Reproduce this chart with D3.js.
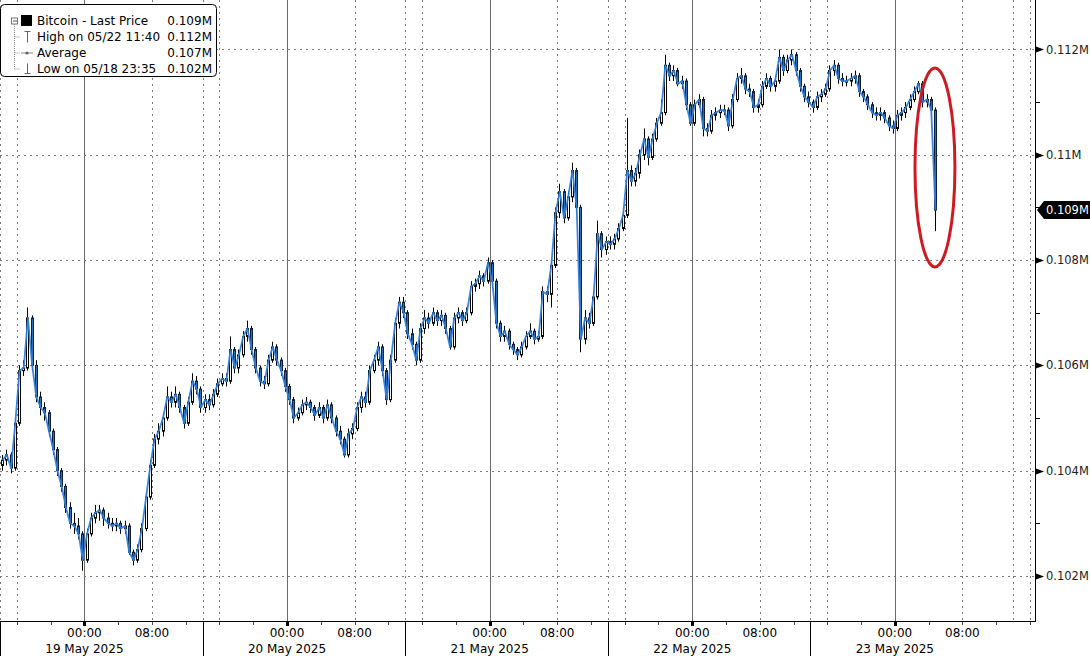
<!DOCTYPE html>
<html><head><meta charset="utf-8">
<script src="https://cdn.jsdelivr.net/npm/d3@7"></script>
<style>
body{margin:0;background:#fff;}
svg{display:block;font-family:"DejaVu Sans",sans-serif;}
</style>
</head><body>
<svg id="chart" width="1090" height="656"></svg>
<script>
// ---------------- data (thousands of USD, 30-minute candles) ----------------
const startTime = "2025-05-18T14:00";
const axisEndTime = "2025-05-23T16:36";
const candleMinutes = 30;
const firstOpen = 104.1;
const close = [
104.2,104.3,104.05,104.9,105.9,105.95,106.9,106.0,105.4,105.2,
105.1,104.75,104.4,104.0,103.7,103.3,103.0,102.95,102.8,102.3,
102.8,103.1,103.2,103.25,103.1,103.0,102.95,103.0,102.9,102.95,
102.45,102.3,102.5,102.9,103.5,104.1,104.6,104.75,105.0,105.4,
105.3,105.45,105.2,104.9,105.3,105.7,105.55,105.2,105.35,105.25,
105.45,105.65,105.75,105.7,106.3,105.95,106.2,106.55,106.7,106.3,
105.95,105.7,105.65,106.1,106.35,106.1,105.9,105.6,105.35,105.0,
105.1,105.25,105.3,105.2,105.05,105.2,105.0,105.25,105.0,104.75,
104.6,104.3,104.7,104.8,105.2,105.4,105.3,105.9,106.1,106.35,
105.9,105.35,106.1,106.8,107.2,107.0,106.6,106.4,106.1,106.7,
106.9,106.8,107.0,106.85,106.95,106.7,106.35,106.9,107.0,106.85,
107.0,107.5,107.55,107.7,107.6,107.95,107.6,106.8,106.55,106.65,
106.4,106.3,106.2,106.35,106.55,106.65,106.5,106.55,107.4,107.35,
107.9,108.9,109.3,108.8,109.2,109.7,109.0,106.5,106.9,106.8,
107.3,108.5,108.2,108.35,108.3,108.4,108.6,108.85,109.7,109.5,
109.65,110.0,110.3,109.95,110.3,110.6,110.8,111.7,111.5,111.6,
111.35,111.4,110.95,110.6,110.95,111.05,110.5,110.45,110.75,110.8,
110.85,110.85,110.55,111.05,111.45,111.5,111.25,111.2,110.9,110.95,
111.3,111.45,111.3,111.4,111.85,111.6,111.8,111.9,111.6,111.3,
111.1,111.0,110.9,111.1,111.15,111.25,111.6,111.7,111.45,111.4,
111.4,111.45,111.5,111.2,111.1,110.95,110.8,110.75,110.8,110.7,
110.55,110.5,110.75,110.8,110.9,111.05,111.2,111.35,111.0,111.05,
110.85,108.95
];
const high = [
104.3,104.4,104.35,105.0,106.0,106.1,107.1,106.95,106.1,105.5,
105.3,105.15,104.8,104.45,104.05,103.75,103.4,103.2,103.1,102.85,
102.9,103.2,103.35,103.35,103.3,103.2,103.1,103.1,103.05,103.05,
103.0,102.5,102.6,103.0,103.6,104.2,104.7,104.9,105.1,105.6,
105.5,105.6,105.5,105.25,105.4,105.85,105.8,105.6,105.45,105.45,
105.55,105.75,105.85,105.85,106.55,106.35,106.3,106.65,106.85,106.75,
106.35,106.0,105.8,106.2,106.45,106.4,106.15,105.95,105.65,105.4,
105.2,105.35,105.4,105.35,105.25,105.3,105.25,105.35,105.3,105.05,
104.85,104.65,104.8,104.9,105.3,105.5,105.5,106.0,106.2,106.45,
106.4,105.95,106.2,106.9,107.3,107.3,107.05,106.7,106.45,106.8,
107.05,107.0,107.1,107.05,107.05,107.0,106.75,107.0,107.1,107.05,
107.1,107.6,107.65,107.8,107.75,108.05,108.0,107.65,106.85,106.75,
106.7,106.45,106.35,106.45,106.65,106.8,106.7,106.65,107.5,107.5,
108.0,109.0,109.45,109.35,109.3,109.85,109.75,109.05,107.05,107.0,
107.4,108.75,108.55,108.45,108.45,108.5,108.7,108.95,110.7,109.8,
109.75,110.1,110.5,110.35,110.4,110.7,111.05,111.9,111.75,111.7,
111.65,111.5,111.45,111.0,111.05,111.15,111.1,110.6,110.85,110.9,
110.95,110.95,110.9,111.15,111.55,111.65,111.55,111.35,111.25,111.05,
111.4,111.55,111.5,111.5,112.0,111.9,111.9,112.0,111.95,111.65,
111.35,111.2,111.05,111.2,111.25,111.35,111.7,111.8,111.75,111.55,
111.5,111.55,111.6,111.55,111.25,111.15,111.0,110.9,110.9,110.85,
110.75,110.65,110.85,110.9,111.0,111.15,111.3,111.4,111.4,111.15,
111.1,110.9
];
const low = [
104.0,104.1,103.95,104.0,104.85,105.8,105.9,105.9,105.3,105.05,
104.95,104.65,104.3,103.9,103.6,103.2,102.9,102.8,102.7,102.1,
102.25,102.75,103.0,103.05,102.95,102.9,102.85,102.85,102.8,102.8,
102.4,102.2,102.25,102.45,102.85,103.45,104.05,104.5,104.65,104.95,
105.2,105.2,105.1,104.8,104.85,105.25,105.45,105.1,105.1,105.15,
105.2,105.4,105.6,105.6,105.65,105.85,105.85,106.15,106.45,106.2,
105.85,105.6,105.55,105.6,106.05,106.0,105.8,105.5,105.25,104.9,
104.95,105.05,105.15,105.1,104.95,105.0,104.9,104.95,104.9,104.65,
104.5,104.25,104.25,104.6,104.75,105.1,105.2,105.25,105.85,106.0,
105.8,105.25,105.3,106.05,106.7,106.9,106.5,106.3,106.0,106.05,
106.6,106.7,106.75,106.75,106.75,106.6,106.3,106.3,106.8,106.75,
106.8,106.95,107.4,107.45,107.5,107.55,107.5,106.7,106.45,106.45,
106.3,106.2,106.1,106.15,106.3,106.5,106.4,106.45,106.5,107.2,
107.1,107.85,108.8,108.7,108.75,109.1,108.9,106.25,106.4,106.7,
106.75,107.25,108.05,108.1,108.2,108.2,108.35,108.55,108.8,109.4,
109.4,109.55,109.9,109.8,109.9,110.25,110.55,110.75,111.4,111.4,
111.3,111.25,110.85,110.55,110.55,110.9,110.35,110.35,110.4,110.65,
110.7,110.75,110.45,110.5,111.0,111.35,111.15,111.1,110.8,110.8,
110.9,111.25,111.2,111.2,111.35,111.5,111.55,111.7,111.5,111.2,
111.0,110.9,110.8,110.85,111.0,111.1,111.2,111.5,111.35,111.3,
111.3,111.3,111.35,111.1,111.0,110.85,110.7,110.65,110.65,110.6,
110.45,110.4,110.45,110.65,110.7,110.85,111.0,111.15,110.9,110.9,
110.75,108.55
];
const yMin = 101.145, yMax = 112.94;
const yMajorTicks = [102, 104, 106, 108, 110, 112];
const yMinorTicks = [103, 105, 107, 109, 111];
const xLabelHours = [0, 8];
const solidGridHours = [0];
const dottedGridHours = [8, 14, 16];
const separatorHour = 14;
const separatorLastDay = "2025-05-22T14:00";
const legendRows = [
  {label: "Bitcoin - Last Price", value: "0.109M", icon: "square"},
  {label: "High on 05/22 11:40", value: "0.112M", icon: "high"},
  {label: "Average", value: "0.107M", icon: "avg"},
  {label: "Low on 05/18 23:35", value: "0.102M", icon: "low"}
];
const lastPriceLabel = "0.109M";
const annotation = {time: "2025-05-23T04:45", top: 111.65, bottom: 107.87, halfHours: 2.37};

// ---------------- scales ----------------
const parse = d3.timeParse("%Y-%m-%dT%H:%M");
const t0 = parse(startTime), tEnd = parse(axisEndTime);
const plotRight = 1035, plotBottom = 621;
const x = d3.scaleTime().domain([t0, tEnd]).range([0, plotRight]);
const y = d3.scaleLinear().domain([yMin, yMax]).range([plotBottom, 0]);
const fmtM = k => d3.format(".3~f")(k * 1000 / 1e6) + "M";

const svg = d3.select("#chart");
svg.append("rect").attr("width", 1090).attr("height", 656).attr("fill", "#fff");

const data = close.map((c, i) => ({
  t: d3.timeMinute.offset(t0, i * candleMinutes + candleMinutes / 2),
  o: i ? close[i - 1] : firstOpen, c, h: high[i], l: low[i]
}));

// ---------------- grid ----------------
const grid = svg.append("g");
grid.selectAll("line.h").data(yMajorTicks).join("line")
  .attr("x1", 0).attr("x2", plotRight)
  .attr("y1", d => Math.round(y(d)) + 0.5).attr("y2", d => Math.round(y(d)) + 0.5)
  .attr("stroke", "#7a7a7a").attr("stroke-dasharray", "2,4");

const hours = d3.timeHour.range(t0, d3.timeMinute.offset(tEnd, 1));
const vx = d => Math.round(x(d)) + 0.5;
grid.selectAll("line.vd").data(hours.filter(d => dottedGridHours.includes(d.getHours()))).join("line")
  .attr("x1", vx).attr("x2", vx).attr("y1", 0).attr("y2", plotBottom)
  .attr("stroke", "#7a7a7a").attr("stroke-dasharray", "2,4");
grid.selectAll("line.vs").data(hours.filter(d => solidGridHours.includes(d.getHours()))).join("line")
  .attr("x1", vx).attr("x2", vx).attr("y1", 0).attr("y2", plotBottom)
  .attr("stroke", "#6a6a6a");

// ---------------- candles ----------------
const cg = svg.append("g");
cg.selectAll("line.w").data(data).join("line")
  .attr("x1", d => Math.round(x(d.t)) + 0.5).attr("x2", d => Math.round(x(d.t)) + 0.5)
  .attr("y1", d => y(d.h)).attr("y2", d => y(d.l))
  .attr("stroke", "#000").attr("stroke-width", 1);
cg.selectAll("rect.b").data(data).join("rect")
  .attr("x", d => Math.round(x(d.t)) - 0.5)
  .attr("width", 2)
  .attr("y", d => y(Math.max(d.o, d.c)))
  .attr("height", d => Math.max(1, Math.abs(y(d.o) - y(d.c))))
  .attr("fill", d => d.c >= d.o ? "#fff" : "#2c6fc0")
  .attr("stroke", d => d.c >= d.o ? "#000" : "#0c1f3d")
  .attr("stroke-width", 1);

// blue last-price line through the closes
const line = d3.line().x(d => x(d.t) + 0.5).y(d => y(d.c));
svg.append("path").datum(data).attr("d", line)
  .attr("fill", "none").attr("stroke", "#2f80da").attr("stroke-width", 1.8)
  .attr("stroke-linejoin", "round").attr("stroke-opacity", 0.95);

// ---------------- annotation ellipse ----------------
const at = parse(annotation.time);
svg.append("ellipse")
  .attr("cx", x(at))
  .attr("cy", (y(annotation.top) + y(annotation.bottom)) / 2)
  .attr("rx", x(d3.timeMinute.offset(at, annotation.halfHours * 60)) - x(at))
  .attr("ry", (y(annotation.bottom) - y(annotation.top)) / 2)
  .attr("fill", "none").attr("stroke", "#cc1c22").attr("stroke-width", 3);

// ---------------- right axis ----------------
const ra = svg.append("g");
ra.append("line").attr("x1", plotRight + 0.5).attr("x2", plotRight + 0.5)
  .attr("y1", 0).attr("y2", plotBottom).attr("stroke", "#000");
ra.selectAll("path.tri").data(yMajorTicks).join("path")
  .attr("d", d => { const yy = Math.round(y(d)) + 0.5; return `M${plotRight + 1},${yy - 3}L${plotRight + 9},${yy}L${plotRight + 1},${yy + 3}Z`; })
  .attr("fill", "#000");
ra.selectAll("line.mn").data(yMinorTicks).join("line")
  .attr("x1", plotRight + 1).attr("x2", plotRight + 5)
  .attr("y1", d => Math.round(y(d)) + 0.5).attr("y2", d => Math.round(y(d)) + 0.5)
  .attr("stroke", "#000");
ra.selectAll("text").data(yMajorTicks).join("text")
  .attr("x", plotRight + 11).attr("y", d => y(d)).attr("dy", "0.35em")
  .attr("font-size", 11.5).attr("fill", "#222")
  .text(d => fmtM(d));

// last price tag
const lastY = y(close[close.length - 1]);
const tag = svg.append("g");
tag.append("path")
  .attr("d", `M${plotRight + 2},${lastY}L${plotRight + 9},${lastY - 9}L1090,${lastY - 9}L1090,${lastY + 9}L${plotRight + 9},${lastY + 9}Z`)
  .attr("fill", "#000");
tag.append("text").attr("x", plotRight + 11).attr("y", lastY).attr("dy", "0.36em")
  .attr("font-size", 11.5).attr("fill", "#fff").text(lastPriceLabel);

// ---------------- bottom axis ----------------
const ba = svg.append("g");
ba.append("line").attr("x1", 0).attr("x2", plotRight + 1)
  .attr("y1", plotBottom + 0.5).attr("y2", plotBottom + 0.5).attr("stroke", "#000");
const fourH = hours.filter(d => d.getHours() % 4 === 0);
ba.selectAll("line.t").data(fourH.filter(d => d.getHours() !== 0)).join("line")
  .attr("x1", vx).attr("x2", vx).attr("y1", plotBottom + 1).attr("y2", plotBottom + 4)
  .attr("stroke", "#444");
ba.selectAll("rect.mj").data(hours.filter(d => d.getHours() === 0)).join("rect")
  .attr("x", d => Math.round(x(d)) - 1).attr("y", plotBottom + 1).attr("width", 3).attr("height", 4)
  .attr("fill", "#000");
const sepEnd = parse(separatorLastDay);
ba.selectAll("line.sep").data(hours.filter(d => d.getHours() === separatorHour && d <= sepEnd)).join("line")
  .attr("x1", vx).attr("x2", vx).attr("y1", plotBottom).attr("y2", 656)
  .attr("stroke", "#000");
ba.selectAll("text.tm").data(hours.filter(d => xLabelHours.includes(d.getHours()))).join("text")
  .attr("x", d => x(d)).attr("y", 637).attr("text-anchor", "middle")
  .attr("font-size", 12).attr("fill", "#000")
  .text(d3.timeFormat("%H:%M"));
ba.selectAll("text.dt").data(hours.filter(d => d.getHours() === 0)).join("text")
  .attr("x", d => x(d)).attr("y", 653).attr("text-anchor", "middle")
  .attr("font-size", 12).attr("fill", "#000")
  .text(d3.timeFormat("%-d %b %Y"));

// ---------------- legend ----------------
const lg = svg.append("g");
lg.append("rect").attr("x", 0.5).attr("y", 4.5).attr("width", 216).attr("height", 72).attr("rx", 4)
  .attr("fill", "#fff").attr("stroke", "#000");
const rowY = i => 25 + i * 16;
lg.append("line").attr("x1", 14.5).attr("x2", 14.5).attr("y1", 22).attr("y2", rowY(3) - 4.5)
  .attr("stroke", "#888").attr("stroke-dasharray", "1,1");
legendRows.forEach((r, i) => {
  const cy = rowY(i) - 4.5;
  if (i > 0) lg.append("line").attr("x1", 14.5).attr("x2", 20).attr("y1", cy + 0.5).attr("y2", cy + 0.5)
    .attr("stroke", "#888").attr("stroke-dasharray", "1,1");
  if (r.icon === "square") {
    lg.append("rect").attr("x", 11.5).attr("y", cy - 2.5).attr("width", 6).attr("height", 6)
      .attr("fill", "#fff").attr("stroke", "#777");
    lg.append("line").attr("x1", 13).attr("x2", 17).attr("y1", cy + 0.5).attr("y2", cy + 0.5).attr("stroke", "#555");
    lg.append("rect").attr("x", 21).attr("y", cy - 5.5).attr("width", 11).attr("height", 11).attr("fill", "#000");
  } else if (r.icon === "high") {
    lg.append("path").attr("d", `M24.5,${cy - 5}H30.5M27.5,${cy - 5}V${cy + 6}`).attr("stroke", "#666").attr("fill", "none");
  } else if (r.icon === "avg") {
    lg.append("line").attr("x1", 21).attr("x2", 33).attr("y1", cy + 0.5).attr("y2", cy + 0.5).attr("stroke", "#888");
    lg.append("circle").attr("cx", 27).attr("cy", cy + 0.5).attr("r", 1.6).attr("fill", "#666");
  } else {
    lg.append("path").attr("d", `M27.5,${cy - 5}V${cy + 5}M24.5,${cy + 5}H30.5`).attr("stroke", "#666").attr("fill", "none");
  }
  lg.append("text").attr("x", 37).attr("y", rowY(i)).attr("font-size", 12).attr("fill", "#000").text(r.label);
  lg.append("text").attr("x", 212).attr("y", rowY(i)).attr("font-size", 12).attr("text-anchor", "end")
    .attr("fill", "#000").text(r.value);
});
</script>
</body></html>
